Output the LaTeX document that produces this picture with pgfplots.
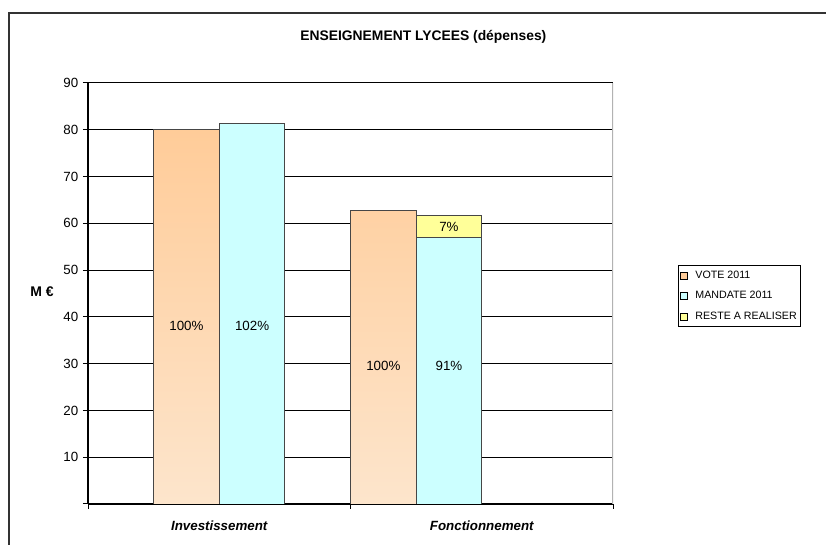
\documentclass[border=0pt]{standalone}
\usepackage{fontspec}
\setmainfont{Liberation Sans}
\usepackage{pgfplots}
\pgfplotsset{compat=1.18}
\usepackage{pgfplotstable}
\definecolor{voteTop}{RGB}{255,204,153}
\definecolor{voteBot}{RGB}{253,229,204}
\definecolor{mand}{RGB}{204,255,255}
\definecolor{reste}{RGB}{255,255,153}
\definecolor{bord}{RGB}{70,70,70}

% VOTE 2011 (M EUR)
\pgfplotstableread{
x y
0.375 80.0
1.125 62.8
}\vote
% MANDATE 2011 (M EUR)
\pgfplotstableread{
x y
0.625 81.4
1.375 56.9
}\mandate
% MANDATE + RESTE A REALISER (top of the yellow part)
\pgfplotstableread{
x y
1.375 61.7
}\reste

\begin{document}
\begin{tikzpicture}
\path[use as bounding box] (0,0) rectangle (619.5pt,408.75pt);
\draw[black!80, line width=1.1pt] (6.6pt,-5pt) -- (6.6pt,399pt) -- (630pt,399pt);
\node[font=\bfseries\fontsize{10.4}{12}\selectfont] at (317.5pt,381pt) {ENSEIGNEMENT LYCEES (dépenses)};
\node[font=\bfseries\fontsize{10.5}{12}\selectfont] at (31.5pt,189.75pt) {M €};
\begin{axis}[
  at={(66pt,30.75pt)}, anchor=south west,
  width=393.75pt, height=315.75pt, scale only axis,
  xmin=0, xmax=2, ymin=0, ymax=90,
  axis x line*=bottom, axis y line*=left,
  axis line style={black, line width=0.8pt},
  ytick={0,10,...,90},
  yticklabels={,10,20,30,40,50,60,70,80,90},
  ymajorgrids, grid style={black, line width=0.75pt},
  xtick={0.5,1.5},
  xticklabels={Investissement, Fonctionnement},
  x tick label style={font=\bfseries\itshape\fontsize{10}{12}\selectfont, yshift=-5.5pt},
  y tick label style={font=\fontsize{10}{12}\selectfont},
  major x tick style={draw=none},
  minor xtick={0,1,2},
  tick align=outside,
  major tick length=3.75pt, minor tick length=3.75pt,
  tick style={black, line width=0.75pt},
  /pgf/number format/assume math mode=true,
  legend style={at={(1.1238,0.5677)}, anchor=north west, draw=black, line width=0.6pt,
    font=\fontsize{8}{9.6}\selectfont, row sep=4.4pt, inner xsep=1pt, inner ysep=2pt,
    cells={anchor=west}},
  legend image code/.code={\draw[#1, draw=black, line width=0.5pt] (0pt,-2.6pt) rectangle (5.2pt,2.6pt); \path[draw=none, fill=none] (0pt,0pt) rectangle (9.5pt,0.1pt);},
]
\addplot[ybar, bar width=0.25, bar shift=0pt, draw=bord, line width=0.7pt,
  top color=voteTop, bottom color=voteBot, forget plot] table[x=x,y=y]{\vote};
\addplot[ybar, bar width=0.25, bar shift=0pt, draw=bord, line width=0.7pt,
  fill=reste, forget plot] table[x=x,y=y]{\reste};
\addplot[ybar, bar width=0.25, bar shift=0pt, draw=bord, line width=0.7pt,
  fill=mand, forget plot] table[x=x,y=y]{\mandate};
\draw[black!30, line width=1.1pt] (rel axis cs:1,-0.01) -- (rel axis cs:1,1);
\node[font=\fontsize{10}{12}\selectfont] at (axis cs:0.375,38) {100\%};
\node[font=\fontsize{10}{12}\selectfont] at (axis cs:0.625,38) {102\%};
\node[font=\fontsize{10}{12}\selectfont] at (axis cs:1.125,29.5) {100\%};
\node[font=\fontsize{10}{12}\selectfont] at (axis cs:1.375,29.5) {91\%};
\node[font=\fontsize{10}{12}\selectfont] at (axis cs:1.375,59.3) {7\%};
\addlegendimage{fill=voteTop}
\addlegendentry{VOTE 2011}
\addlegendimage{fill=mand}
\addlegendentry{MANDATE 2011}
\addlegendimage{fill=reste}
\addlegendentry{RESTE A REALISER}
\end{axis}
\end{tikzpicture}
\end{document}
